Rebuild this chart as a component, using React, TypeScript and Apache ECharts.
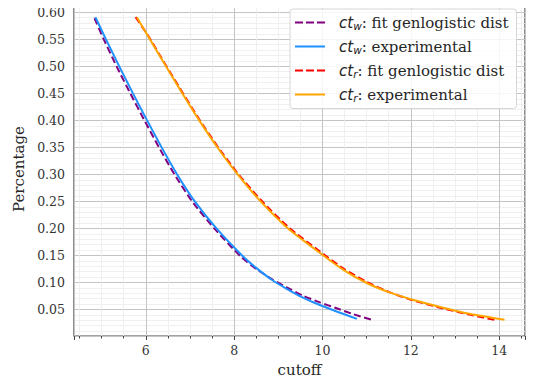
import React, { useEffect, useRef } from "react";
import * as echarts from "echarts";

// ct_w: fitted genlogistic distribution [cutoff, percentage]
const ctwFit: [number, number][] = [
  [4.84, 0.589], [5.05, 0.55], [5.34, 0.5], [5.65, 0.45], [5.97, 0.4],
  [6.3, 0.35], [6.65, 0.3], [7.05, 0.25], [7.55, 0.2], [8.15, 0.148],
  [8.5, 0.125], [8.87, 0.1055], [9.18, 0.0915], [9.56, 0.0755],
  [9.94, 0.0632], [10.32, 0.0522], [10.7, 0.0412], [11.12, 0.0308],
];
// ct_w: experimental
const ctwExp: [number, number][] = [
  [4.86, 0.591], [5.1, 0.55], [5.4, 0.5], [5.71, 0.45], [6.03, 0.4],
  [6.36, 0.35], [6.71, 0.3], [7.11, 0.25], [7.6, 0.2], [8.18, 0.15],
  [8.5, 0.127], [8.87, 0.104], [9.18, 0.0888], [9.56, 0.0718],
  [9.94, 0.0582], [10.32, 0.0462], [10.78, 0.0326],
];
// ct_r: fitted genlogistic distribution
const ctrFit: [number, number][] = [
  [5.77, 0.591], [6.04, 0.5585], [6.4, 0.5095], [6.76, 0.461], [7.21, 0.402],
  [7.64, 0.35], [8.08, 0.302], [8.6, 0.253], [9.22, 0.203], [10.02, 0.1525],
  [10.5, 0.1245], [11.0, 0.101], [11.5, 0.0825], [12.0, 0.068],
  [12.6, 0.0545], [13.35, 0.04], [13.97, 0.0295],
];
// ct_r: experimental
const ctrExp: [number, number][] = [
  [5.8, 0.591], [6.04, 0.5575], [6.4, 0.508], [6.76, 0.459], [7.21, 0.4],
  [7.64, 0.348], [8.08, 0.3], [8.6, 0.25], [9.22, 0.2], [10.02, 0.15],
  [10.5, 0.122], [11.0, 0.099], [11.5, 0.082], [12.0, 0.069],
  [12.6, 0.056], [13.35, 0.0415], [14.12, 0.031],
];

const legendLabels: Record<string, string> = {
  ctwFit: "{it|ct}{sub|w}{n|: fit genlogistic dist}",
  ctwExp: "{it|ct}{sub|w}{n|: experimental}",
  ctrFit: "{it|ct}{sub|r}{n|: fit genlogistic dist}",
  ctrExp: "{it|ct}{sub|r}{n|: experimental}",
};

const X_MIN = 4.376;
const X_MAX = 14.584;
const Y_MIN = 0.0009;
const Y_MAX = 0.6191;

const SOLID_ICON = "path://M0,0h30v2h-30z";
const DASH_ICON = "path://M0,0h8v2h-8zM11,0h8v2h-8zM22,0h8v2h-8z";

export default function App() {
  const ref = useRef<HTMLDivElement>(null);
  useEffect(() => {
    if (!ref.current) return;
    const chart = echarts.init(ref.current, undefined, { renderer: "svg" });
    const serif = "DejaVu Serif";
    const line = (
      name: string,
      data: [number, number][],
      color: string,
      dashed: boolean
    ) => ({
      name,
      type: "line",
      data,
      smooth: 0.2,
      symbol: "none",
      showSymbol: false,
      lineStyle: { color, width: 2, type: dashed ? [7, 3.5] : "solid" },
      itemStyle: { color },
    });
    chart.setOption({
      animation: false,
      backgroundColor: "#fff",
      grid: {
        left: 74,
        right: 25,
        top: 2,
        bottom: 49,
        show: true,
        borderColor: "#444",
        borderWidth: 1.2,
      },
      legend: {
        data: [
          { name: "ctwFit", icon: DASH_ICON },
          { name: "ctwExp", icon: SOLID_ICON },
          { name: "ctrFit", icon: DASH_ICON },
          { name: "ctrExp", icon: SOLID_ICON },
        ],
        orient: "vertical",
        left: 290,
        top: 9,
        itemWidth: 30,
        itemHeight: 14,
        itemGap: 7.5,
        symbolKeepAspect: true,
        padding: [6, 8, 5, 5],
        backgroundColor: "rgba(255,255,255,0.85)",
        borderColor: "#d6d6d6",
        borderWidth: 1,
        borderRadius: 3,
        formatter: (name: string) => legendLabels[name],
        textStyle: {
          fontFamily: serif,
          fontSize: 15,
          color: "#262626",
          padding: [0, 0, 0, 9],
          rich: {
            it: {
              fontFamily: "DejaVu Sans",
              fontStyle: "italic",
              fontSize: 15,
              color: "#262626",
            },
            sub: {
              fontFamily: "DejaVu Sans",
              fontStyle: "italic",
              fontSize: 10.5,
              color: "#262626",
              padding: [7, 0, 0, 0],
            },
            n: { fontFamily: serif, fontSize: 15, color: "#262626" },
          },
        },
      },
      xAxis: {
        type: "value",
        min: X_MIN,
        max: X_MAX,
        splitNumber: 5,
        name: "cutoff",
        nameLocation: "middle",
        nameGap: 26,
        nameTextStyle: { fontFamily: serif, fontSize: 15, color: "#262626" },
        axisLine: { show: false },
        axisTick: { show: true, length: 4, lineStyle: { color: "#444" } },
        minorTick: { show: true, splitNumber: 4, length: 2.5, lineStyle: { color: "#444" } },
        axisLabel: {
          fontFamily: serif,
          fontSize: 12.5,
          color: "#333",
          margin: 8,
          showMinLabel: false,
          showMaxLabel: false,
          formatter: (v: number) => (Math.abs(v - Math.round(v)) < 1e-6 ? String(Math.round(v)) : ""),
        },
        splitLine: { show: true, lineStyle: { color: "#c4c4c4", width: 1 } },
        minorSplitLine: { show: true, lineStyle: { color: "#ececec", width: 0.8 } },
      },
      yAxis: {
        type: "value",
        min: Y_MIN,
        max: Y_MAX,
        splitNumber: 12,
        name: "Percentage",
        nameLocation: "middle",
        nameGap: 40,
        nameTextStyle: { fontFamily: serif, fontSize: 15, color: "#262626" },
        axisLine: { show: false },
        axisTick: { show: false },
        minorTick: { show: false, splitNumber: 5 },
        axisLabel: {
          fontFamily: serif,
          fontSize: 12.5,
          color: "#333",
          margin: 9,
          showMinLabel: false,
          showMaxLabel: false,
          formatter: (v: number) => v.toFixed(2),
        },
        splitLine: { show: true, lineStyle: { color: "#c4c4c4", width: 1 } },
        minorSplitLine: { show: true, lineStyle: { color: "#ececec", width: 0.8 } },
      },
      series: [
        line("ctwFit", ctwFit, "#800080", true),
        line("ctwExp", ctwExp, "#1e90ff", false),
        line("ctrFit", ctrFit, "#ff0000", true),
        line("ctrExp", ctrExp, "#ffa500", false),
      ],
    });
    return () => chart.dispose();
  }, []);
  return <div ref={ref} style={{ width: 550, height: 385, margin: -8 }} />;
}
